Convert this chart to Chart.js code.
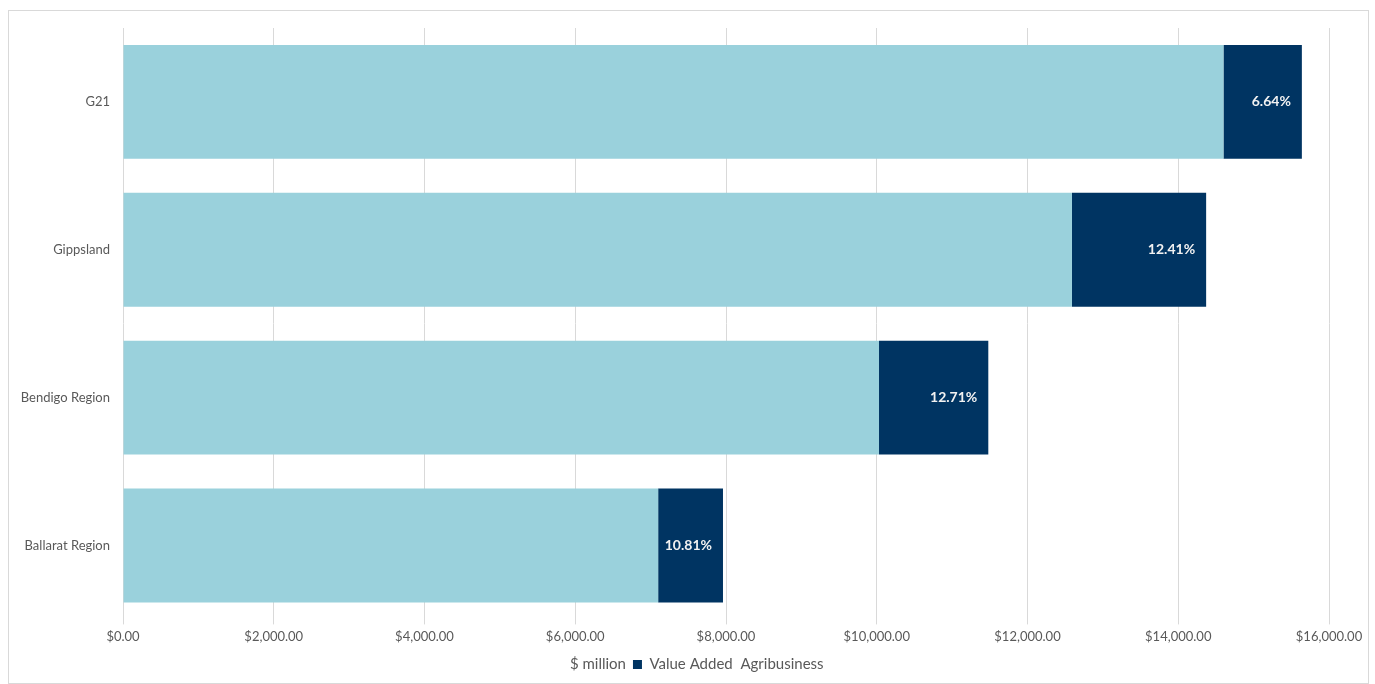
<!DOCTYPE html>
<html>
<head>
<meta charset="utf-8">
<script src="https://cdn.jsdelivr.net/npm/chart.js@4/dist/chart.umd.min.js"></script>
<style>
  body { margin: 0; background: #fff; }
  #frame {
    position: absolute; left: 8px; top: 10px;
    width: 1359px; height: 672px;
    border: 1px solid #d9d9d9;
  }
</style>
</head>
<body>
<div id="frame"><canvas id="barChart"></canvas></div>
<script>
// data
var regions = ['G21', 'Gippsland', 'Bendigo Region', 'Ballarat Region'];
var millionValues = [14600, 12590, 10030, 7100];
var valueAdded = [1040, 1780, 1450, 860];
var shareLabels = ['6.64%', '12.41%', '12.71%', '10.81%'];
var seriesNames = ['$ million', 'Value Added  Agribusiness'];

var lightBlue = '#9ad1dc';
var navy = '#003462';
var textGrey = '#595959';

//-------------
//- LABELS INSIDE THE DARK BARS -
//-------------
var shareLabelPlugin = {
    id: 'shareLabels',
    afterDatasetsDraw: function (chart) {
        var ctx = chart.ctx;
        var meta = chart.getDatasetMeta(1);
        ctx.save();
        ctx.font = 'bold 14px Lato';
        ctx.fillStyle = '#f2f2f2';
        ctx.textAlign = 'right';
        ctx.textBaseline = 'middle';
        meta.data.forEach(function (bar, i) {
            ctx.fillText(shareLabels[i], bar.x - 11, bar.y);
        });
        ctx.restore();
    }
};

var barChartCanvas = document.getElementById('barChart').getContext('2d');

new Chart(barChartCanvas, {
    type: 'bar',
    data: {
        labels: regions,
        datasets: [
            {
                label: seriesNames[0],
                backgroundColor: lightBlue,
                data: millionValues,
                barPercentage: 0.77,
                categoryPercentage: 1
            },
            {
                label: seriesNames[1],
                backgroundColor: navy,
                data: valueAdded,
                barPercentage: 0.77,
                categoryPercentage: 1
            }
        ]
    },
    options: {
        indexAxis: 'y',
        responsive: true,
        maintainAspectRatio: false,
        animation: false,
        layout: { padding: { top: 0, right: 0, bottom: 1, left: 0 } },
        scales: {
            x: {
                stacked: true,
                min: 0,
                max: 16000,
                ticks: {
                    stepSize: 2000,
                    color: textGrey,
                    font: { family: 'Lato', size: 13 },
                    padding: 5,
                    callback: function (v) {
                        return '$' + Number(v).toLocaleString('en-US', { minimumFractionDigits: 2, maximumFractionDigits: 2 });
                    }
                },
                grid: { color: '#d9d9d9', tickLength: 5 },
                border: { display: false },
                // room on the right for the last tick label, without moving the legend
                afterFit: function (scale) { scale.paddingRight = 39; }
            },
            y: {
                stacked: true,
                ticks: {
                    color: textGrey,
                    font: { family: 'Lato', size: 13 },
                    padding: 13
                },
                grid: { display: false, drawTicks: false },
                border: { display: false },
                afterFit: function (scale) {
                    scale.width = 114;
                    scale.paddingTop = 17;
                    scale.paddingBottom = 0;
                }
            }
        },
        plugins: {
            tooltip: { enabled: false },
            legend: {
                position: 'bottom',
                labels: {
                    color: textGrey,
                    font: { family: 'Lato', size: 15 },
                    boxWidth: 9,
                    boxHeight: 9,
                    padding: 7,
                    generateLabels: function (chart) {
                        var items = Chart.defaults.plugins.legend.labels.generateLabels(chart);
                        // the first series shows no key in the reference
                        items[0].fillStyle = 'rgba(0,0,0,0)';
                        items[0].strokeStyle = 'rgba(0,0,0,0)';
                        items[0].lineWidth = 0;
                        items[1].lineWidth = 0;
                        return items;
                    }
                }
            }
        }
    },
    plugins: [shareLabelPlugin]
});
</script>
</body>
</html>
